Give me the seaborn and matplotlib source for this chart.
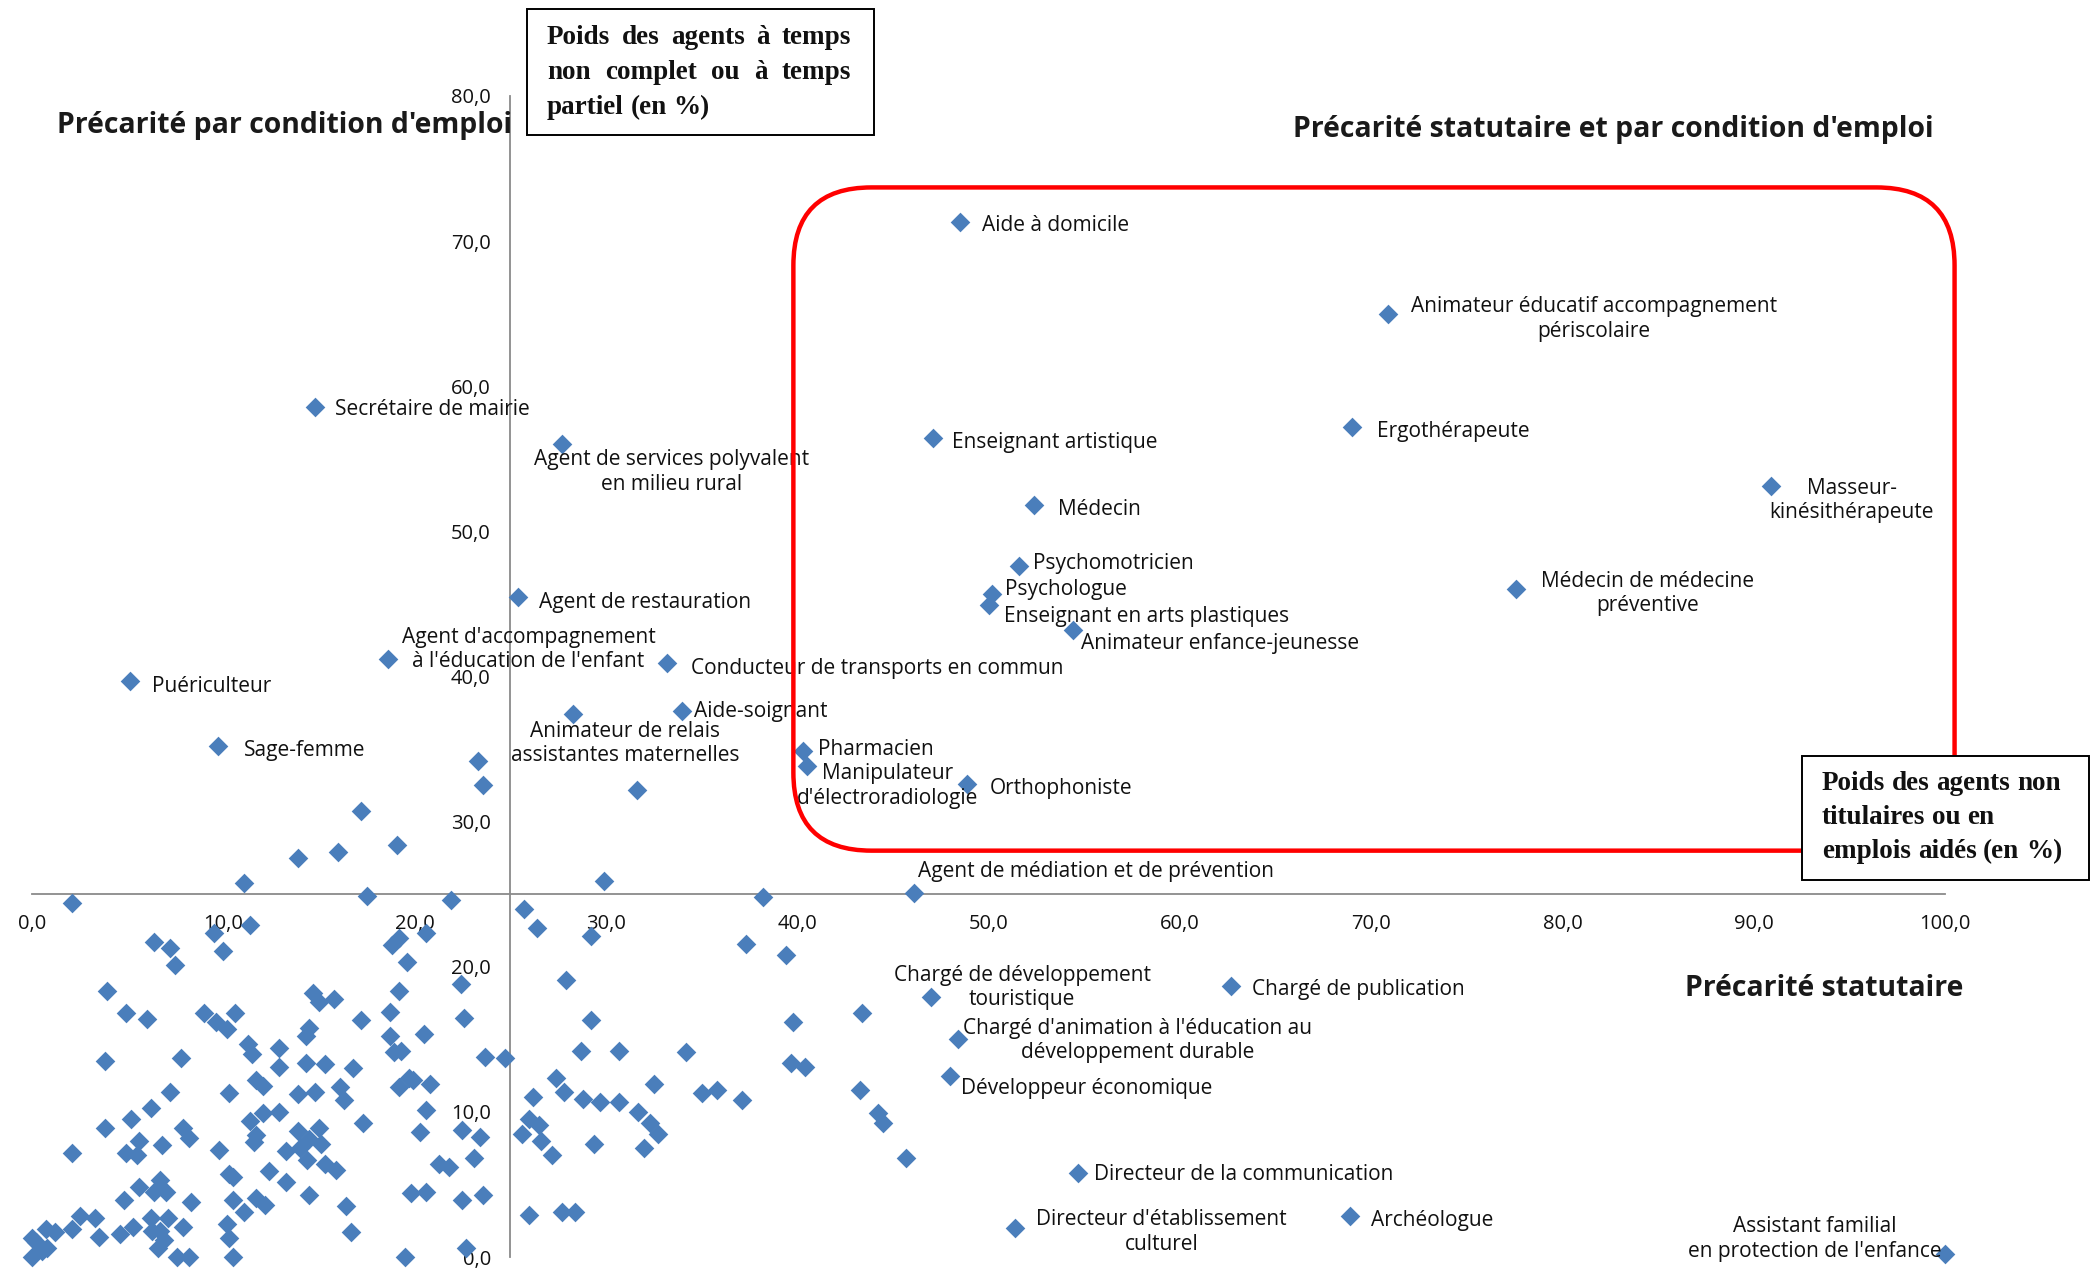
import matplotlib
matplotlib.use("Agg")
import matplotlib.pyplot as plt
import numpy as np
import pandas as pd
import seaborn as sns
from matplotlib.patches import FancyBboxPatch, Rectangle
from matplotlib.transforms import IdentityTransform

# ---------------- data ----------------
label_names = [
    "Aide à domicile",
    "Animateur éducatif accompagnement\npériscolaire",
    "Secrétaire de mairie",
    "Agent de services polyvalent\nen milieu rural",
    "Enseignant artistique",
    "Ergothérapeute",
    "Masseur-\nkinésithérapeute",
    "Médecin",
    "Psychomotricien",
    "Psychologue",
    "Enseignant en arts plastiques",
    "Médecin de médecine\npréventive",
    "Animateur enfance-jeunesse",
    "Agent de restauration",
    "Agent d'accompagnement\nà l'éducation de l'enfant",
    "Conducteur de transports en commun",
    "Puériculteur",
    "Aide-soignant",
    "Animateur de relais\nassistantes maternelles",
    "Sage-femme",
    "Pharmacien",
    "Manipulateur\nd'électroradiologie",
    "Orthophoniste",
    "Agent de médiation et de prévention",
    "Chargé de développement\ntouristique",
    "Chargé de publication",
    "Chargé d'animation à l'éducation au\ndéveloppement durable",
    "Développeur économique",
    "Directeur de la communication",
    "Directeur d'établissement\nculturel",
    "Archéologue",
    "Assistant familial\nen protection de l'enfance",
]
label_x = [48.5, 70.9, 14.8, 27.7, 47.1, 69.0, 90.9, 52.4, 51.6, 50.2, 50.0, 77.6,
           54.4, 25.4, 18.6, 33.2, 5.1, 34.0, 28.3, 9.7, 40.3, 40.5, 48.9, 46.1,
           47.0, 62.7, 48.4, 48.0, 54.7, 51.4, 68.9, 100.0]
label_y = [71.3, 65.0, 58.6, 56.0, 56.4, 57.2, 53.1, 51.8, 47.6, 45.7, 44.9, 46.0,
           43.2, 45.5, 41.2, 40.9, 39.7, 37.6, 37.4, 35.2, 34.9, 33.8, 32.6, 25.1,
           17.9, 18.7, 15.0, 12.5, 5.8, 2.0, 2.8, 0.2]

other_x = [
    23.3, 23.6, 17.2, 31.6, 19.1, 16.0, 13.9, 11.1, 29.9, 38.2, 17.5, 21.9, 2.1,
    11.4, 9.5, 6.4, 7.2, 10.0, 7.5, 3.9, 14.7, 15.0, 15.8, 4.9, 6.0, 9.0, 9.6, 10.2,
    10.6, 14.5, 14.3, 11.3, 11.5, 12.9, 3.8, 7.8, 14.3, 15.3, 12.9,
    25.7, 26.4, 29.2, 20.6, 19.2, 18.8, 19.6, 22.4, 27.9, 19.2, 18.7, 17.2, 22.6,
    29.2, 18.7, 20.5, 18.9, 19.3, 28.7, 30.7, 23.7, 24.7, 16.8,
    37.3, 39.4, 43.4, 39.8, 34.2, 39.7, 40.4,
    35.0, 35.8, 37.1, 43.3, 44.2, 44.5, 45.7,
    16.1, 16.3, 19.2, 19.7, 19.9, 20.8, 20.6, 17.3, 20.3, 22.5, 23.4, 23.1, 15.9,
    21.3, 21.8, 19.8, 20.6, 22.5, 23.6, 16.4, 16.7, 19.5, 22.7, 27.4, 27.8, 26.2,
    28.8, 29.7, 30.7, 32.5, 31.7, 26.0, 26.5, 25.6, 26.6, 27.2, 29.4, 32.3, 32.7,
    32.0, 26.0, 27.7, 28.4,
    11.7, 12.1, 7.2, 10.3, 13.9, 14.8, 6.2, 5.2, 3.8, 7.9, 8.2, 11.4, 12.1, 12.9,
    11.7, 11.6, 13.9, 15.0, 14.5, 15.1, 13.3, 14.0, 14.4, 15.3, 2.1, 5.6, 6.8, 4.9,
    5.5, 9.8, 10.3, 10.5, 12.4, 13.3, 6.7, 5.6, 6.4, 7.0, 4.8, 8.3, 10.5, 11.7, 12.2,
    11.1, 14.5, 2.5, 3.3, 0.75, 1.2, 2.1, 0.0, 3.5, 4.6, 5.3, 6.2, 7.1, 7.9, 6.7,
    6.25, 6.9, 6.6, 10.2, 10.3, 10.5, 0.0, 0.5, 0.8, 7.6, 8.2, 0.2,
]
other_y = [
    34.2, 32.5, 30.7, 32.2, 28.4, 27.9, 27.5, 25.8, 25.9, 24.8, 24.9, 24.6, 24.4,
    22.9, 22.3, 21.7, 21.3, 21.1, 20.1, 18.3, 18.2, 17.6, 17.8, 16.8, 16.4, 16.8, 16.2, 15.7,
    16.8, 15.8, 15.2, 14.7, 14.0, 14.4, 13.5, 13.7, 13.4, 13.3, 13.1,
    24.0, 22.7, 22.1, 22.3, 22.0, 21.5, 20.3, 18.8, 19.1, 18.3, 16.9, 16.3, 16.5,
    16.3, 15.2, 15.4, 14.1, 14.2, 14.2, 14.2, 13.8, 13.7, 13.0,
    21.6, 20.8, 16.8, 16.2, 14.1, 13.4, 13.1,
    11.3, 11.5, 10.8, 11.5, 9.9, 9.2, 6.8,
    11.7, 10.8, 11.7, 12.3, 12.2, 11.9, 10.1, 9.2, 8.6, 8.75, 8.3, 6.8, 6.0,
    6.4, 6.2, 4.4, 4.5, 3.9, 4.3, 3.5, 1.7, 0.0, 0.6, 12.3, 11.4, 11.0,
    10.9, 10.7, 10.7, 11.9, 10.0, 9.5, 9.1, 8.5, 8.0, 7.0, 7.8, 9.2, 8.5,
    7.5, 2.9, 3.1, 3.1,
    12.2, 11.8, 11.4, 11.3, 11.2, 11.4, 10.3, 9.5, 8.9, 8.9, 8.2, 9.4, 9.9, 10.0,
    8.4, 7.9, 8.7, 8.9, 8.1, 7.8, 7.3, 7.5, 6.7, 6.4, 7.2, 8.0, 7.7, 7.2,
    7.0, 7.35, 5.7, 5.5, 5.9, 5.2, 5.3, 4.8, 4.5, 4.5, 3.9, 3.8, 3.9, 4.05, 3.6,
    3.1, 4.3, 2.8, 2.7, 1.9, 1.7, 1.9, 1.3, 1.4, 1.6, 2.1, 2.7, 2.7, 2.1, 1.8,
    1.8, 1.2, 0.65, 2.3, 1.3, 0.0, 0.0, 0.4, 0.65, 0.0, 0.0, 1.0,
]

x_ticks = [0, 10, 20, 30, 40, 50, 60, 70, 80, 90, 100]
y_ticks = [0, 10, 20, 30, 40, 50, 60, 70, 80]

box1_lines = ["Poids des agents à temps", "non complet ou à temps", "partiel (en %)"]
box2_lines = ["Poids des agents non", "titulaires ou en", "emplois aidés (en %)"]

# ---------------- layout (label offsets in points) ----------------
label_offsets = [
    (16, 0), (16, -2), (14, 0), (-20, -18), (14, -1), (18, -1), (-1, -8), (17, -1),
    (10, 4), (9, 5), (11, -6), (18, -1), (6, -8), (15, -2), (10, 9), (17, -2),
    (16, -2), (8, 2), (-45, -19), (19, -1), (11, 3), (-7, -12), (16, -1), (3, 17),
    (-27, 9), (15, -1), (4, 1), (8, -7), (11, 1), (15, -1), (15, -1), (-185, 13),
]
label_shift = -2  # global vertical nudge (points)

W, H = 2092, 1270
sns.set_theme(style="white")
plt.rcParams['font.family'] = ['Open Sans', 'DejaVu Sans']

fig = plt.figure(figsize=(W / 100, H / 100), dpi=100)
fig.patch.set_facecolor("white")
ax = fig.add_axes([32 / W, 1 - 1257 / H, (1945 - 32) / W, (1257 - 96) / H])
ax.set_facecolor("white")

df = pd.DataFrame({"x": label_x + other_x, "y": label_y + other_y})
sns.scatterplot(data=df, x="x", y="y", marker="D", s=100, color="#4A7EBB",
                linewidth=0, ax=ax, zorder=3, clip_on=False)

ax.set_xlim(0, 100)
ax.set_ylim(0, 80)
ax.set_xlabel("")
ax.set_ylabel("")
axis_col = "#8A8A8A"
for side in ["top", "right"]:
    ax.spines[side].set_visible(False)
ax.spines["left"].set_position(("data", 25))
ax.spines["bottom"].set_position(("data", 25))
for side in ["left", "bottom"]:
    ax.spines[side].set_color(axis_col)
    ax.spines[side].set_linewidth(1.3)
    ax.spines[side].set_zorder(2)

fmt = lambda v: f"{v:.1f}".replace(".", ",")
ax.set_xticks(x_ticks)
ax.set_xticklabels([fmt(v) for v in x_ticks])
ax.set_yticks(y_ticks)
ax.set_yticklabels([fmt(v) for v in y_ticks])
ax.tick_params(axis="both", direction="out", length=5, width=1.3, color=axis_col,
               labelsize=14.5, labelcolor="#111111", pad=9)
ax.grid(False)

for name, x, y, (dx, dy) in zip(label_names, label_x, label_y, label_offsets):
    ax.annotate(name, (x, y), xytext=(dx, dy + label_shift), textcoords="offset points",
                ha="left", va="center", multialignment="center",
                fontsize=15, color="#111111", linespacing=1.22, zorder=4,
                annotation_clip=False)

# red rounded frame (quadrant highlight)
fig.canvas.draw()
p0 = ax.transData.transform((39.8, 28.0))
p1 = ax.transData.transform((100.5, 73.7))
frame = FancyBboxPatch((p0[0], p0[1]), p1[0] - p0[0], p1[1] - p0[1],
                       boxstyle="round,pad=0,rounding_size=78",
                       transform=IdentityTransform(), fill=False,
                       edgecolor="#FF0000", linewidth=3.2, zorder=5)
fig.patches.append(frame)
frame.set_figure(fig)

# quadrant titles
title_kw = dict(fontsize=20.4, fontweight="bold", color="#1a1a1a", ha="left", va="center")
fig.text(57 / W, 1 - 125 / H, "Précarité par condition d'emploi", **title_kw)
fig.text(1293 / W, 1 - 129 / H, "Précarité statutaire et par condition d'emploi", **title_kw)
fig.text(1685 / W, 1 - 988 / H, "Précarité statutaire", **title_kw)

# axis description boxes
serif = ["Liberation Serif", "DejaVu Serif"]
box1 = Rectangle((527 / W, 1 - 135 / H), (874 - 527) / W, (135 - 9) / H,
                 transform=fig.transFigure, facecolor="white", edgecolor="black",
                 linewidth=1.4, zorder=6)
fig.patches.append(box1)
box2 = Rectangle((1802 / W, 1 - 880 / H), (2089 - 1802) / W, (880 - 756) / H,
                 transform=fig.transFigure, facecolor="white", edgecolor="black",
                 linewidth=1.4, zorder=6)
fig.patches.append(box2)

renderer = fig.canvas.get_renderer()
box_fs = 19.5
space_px = box_fs * 0.25 * 100 / 72


def draw_lines(lines, x0, x1, baselines, justify):
    for line, base, just in zip(lines, baselines, justify):
        words = line.split(" ")
        texts = [fig.text(0, 1 - base / H, w, family=serif, fontsize=box_fs,
                          fontweight="bold", ha="left", va="baseline", zorder=7,
                          color="#111111")
                 for w in words]
        widths = [t.get_window_extent(renderer).width for t in texts]
        if just and len(words) > 1:
            gap = (x1 - x0 - sum(widths)) / (len(words) - 1)
        else:
            gap = space_px
        x = x0
        for t, w in zip(texts, widths):
            t.set_x(x / W)
            x += w + gap


draw_lines(box1_lines, 547, 851, [44, 79, 114], [True, True, False])
draw_lines(box2_lines, 1822, 2062, [790, 824, 858], [False, False, False])

fig.savefig("out.png", dpi=100, facecolor="white")
